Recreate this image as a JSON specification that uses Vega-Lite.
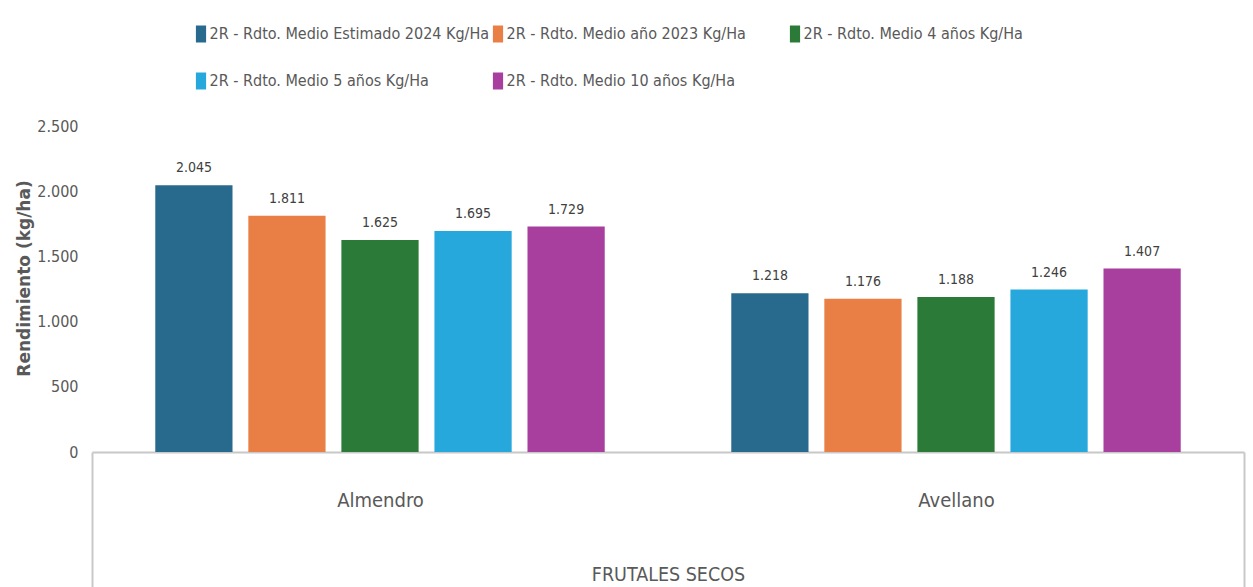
{
  "$schema": "https://vega.github.io/schema/vega-lite/v6.json",
  "width": 1152,
  "height": 326,
  "autosize": {"type": "none"},
  "padding": {"left": 92, "top": 126, "right": 9, "bottom": 135},
  "background": "white",
  "config": {
    "locale": {"number": {"decimal": ",", "thousands": ".", "grouping": [3], "currency": ["", " €"]}},
    "view": {"stroke": null},
    "font": "DejaVu Sans Condensed, sans-serif"
  },
  "data": {
    "values": [
      {"cultivo": "Almendro", "serie": "2R - Rdto. Medio Estimado 2024 Kg/Ha", "valor": 2045},
      {"cultivo": "Almendro", "serie": "2R - Rdto. Medio año 2023 Kg/Ha", "valor": 1811},
      {"cultivo": "Almendro", "serie": "2R - Rdto. Medio 4 años Kg/Ha", "valor": 1625},
      {"cultivo": "Almendro", "serie": "2R - Rdto. Medio 5 años Kg/Ha", "valor": 1695},
      {"cultivo": "Almendro", "serie": "2R - Rdto. Medio 10 años Kg/Ha", "valor": 1729},
      {"cultivo": "Avellano", "serie": "2R - Rdto. Medio Estimado 2024 Kg/Ha", "valor": 1218},
      {"cultivo": "Avellano", "serie": "2R - Rdto. Medio año 2023 Kg/Ha", "valor": 1176},
      {"cultivo": "Avellano", "serie": "2R - Rdto. Medio 4 años Kg/Ha", "valor": 1188},
      {"cultivo": "Avellano", "serie": "2R - Rdto. Medio 5 años Kg/Ha", "valor": 1246},
      {"cultivo": "Avellano", "serie": "2R - Rdto. Medio 10 años Kg/Ha", "valor": 1407}
    ]
  },
  "encoding": {
    "x": {
      "field": "cultivo",
      "type": "nominal",
      "sort": ["Almendro", "Avellano"],
      "scale": {"paddingInner": 0, "paddingOuter": 0},
      "title": "FRUTALES SECOS",
      "axis": {
        "labelAngle": 0,
        "labelFontSize": 20,
        "labelColor": "#595959",
        "labelBaseline": "middle",
        "labelPadding": -87,
        "tickBand": "extent",
        "tickSize": 135,
        "tickWidth": 2,
        "tickColor": {"condition": {"test": "datum.value === 'Almendro' && !datum.extra", "value": "transparent"}, "value": "#c8c8c8"},
        "domainColor": "#c8c8c8",
        "domainWidth": 2,
        "titleFontSize": 19.5,
        "titleFontWeight": "normal",
        "titleColor": "#595959",
        "titleBaseline": "alphabetic",
        "titleY": 128
      }
    },
    "xOffset": {
      "field": "serie",
      "sort": ["2R - Rdto. Medio Estimado 2024 Kg/Ha", "2R - Rdto. Medio año 2023 Kg/Ha", "2R - Rdto. Medio 4 años Kg/Ha", "2R - Rdto. Medio 5 años Kg/Ha", "2R - Rdto. Medio 10 años Kg/Ha"],
      "scale": {"paddingInner": 0.17, "paddingOuter": 0.68}
    },
    "y": {
      "field": "valor",
      "type": "quantitative",
      "scale": {"domain": [0, 2500], "nice": false},
      "title": "Rendimiento (kg/ha)",
      "axis": {
        "values": [0, 500, 1000, 1500, 2000, 2500],
        "format": ",.0f",
        "domain": false,
        "ticks": false,
        "grid": false,
        "labelPadding": 14,
        "labelFontSize": 16,
        "labelColor": "#595959",
        "titleFont": "DejaVu Sans",
        "titleFontSize": 17,
        "titleFontWeight": "bold",
        "titleColor": "#595959",
        "titleX": -68,
        "titleY": 152,
        "titleBaseline": "middle"
      }
    }
  },
  "layer": [
    {
      "mark": {"type": "bar"},
      "encoding": {
        "color": {
          "field": "serie",
          "type": "nominal",
          "sort": ["2R - Rdto. Medio Estimado 2024 Kg/Ha", "2R - Rdto. Medio año 2023 Kg/Ha", "2R - Rdto. Medio 4 años Kg/Ha", "2R - Rdto. Medio 5 años Kg/Ha", "2R - Rdto. Medio 10 años Kg/Ha"],
          "scale": {"range": ["#286a8d", "#ea7f46", "#2c7a38", "#27a8dc", "#a83e9e"]},
          "legend": {
            "title": null,
            "orient": "none",
            "legendX": 100.5,
            "legendY": -100.5,
            "direction": "horizontal",
            "columns": 3,
            "gridAlign": "all",
            "columnPadding": 0,
            "rowPadding": 30,
            "padding": 0,
            "symbolType": "M-0.6,-1H0.6V1H-0.6Z",
            "symbolSize": 289,
            "symbolStrokeWidth": 0,
            "labelOffset": 0,
            "labelLimit": 400,
            "labelFontSize": 16,
            "labelColor": "#595959"
          }
        }
      }
    },
    {
      "mark": {"type": "text", "baseline": "alphabetic", "dy": -13, "fontSize": 14, "color": "#404040"},
      "encoding": {
        "text": {"field": "valor", "type": "quantitative", "format": ",.0f"}
      }
    }
  ]
}
